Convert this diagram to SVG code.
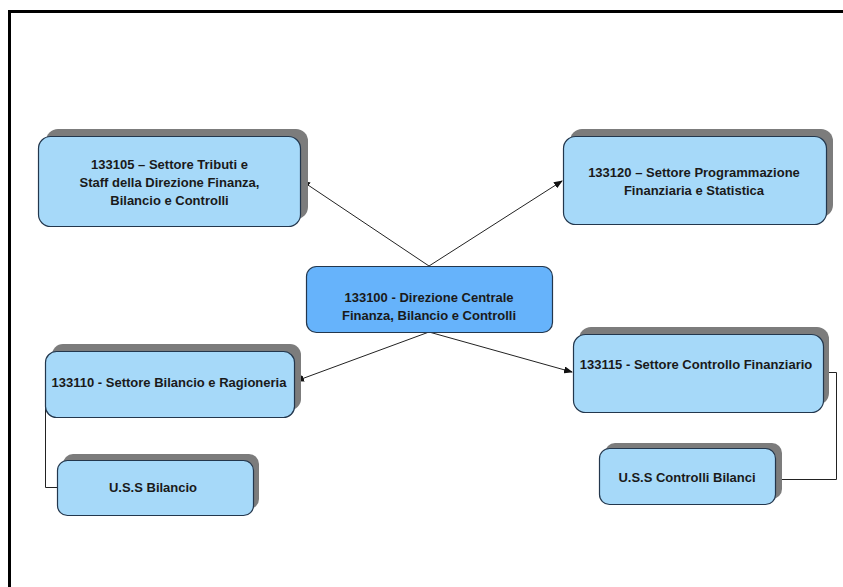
<svg xmlns="http://www.w3.org/2000/svg" width="843" height="587" viewBox="0 0 843 587">
<defs>
<style>
.box{fill:#a6d9f9;stroke:#23374d;stroke-width:1.2}
.main{fill:#66b3fb;stroke:#23374d;stroke-width:1.2}
.sh{fill:#7c7c7c}
.t{font-family:"Liberation Sans",Arial,sans-serif;font-size:13px;font-weight:bold;fill:#1a1a1a;text-anchor:middle}
.c{fill:none;stroke:#222;stroke-width:1}
</style>
<marker id="ah" markerWidth="9" markerHeight="7" refX="8" refY="3.5" orient="auto" markerUnits="userSpaceOnUse">
<path d="M0,0 L9,3.5 L0,7 z" fill="#111"/>
</marker>
</defs>
<rect x="0" y="0" width="843" height="587" fill="#fff"/>
<path d="M9.5,587 V11.5 H843" fill="none" stroke="#000" stroke-width="3"/>

<g id="connectors">
<line class="c" x1="429" y1="266" x2="302" y2="181" marker-end="url(#ah)"/>
<line class="c" x1="429" y1="266" x2="562" y2="181" marker-end="url(#ah)"/>
<line class="c" x1="429" y1="332" x2="296" y2="381" marker-end="url(#ah)"/>
<line class="c" x1="429" y1="332" x2="572" y2="372" marker-end="url(#ah)"/>
<polyline class="c" points="45.5,395 45.5,487.5 57,487.5"/>
<polyline class="c" points="823,372.5 836.5,372.5 836.5,479.5 775,479.5"/>
</g>

<g id="n133105">
<rect class="sh" x="46" y="129" width="262" height="90" rx="12"/>
<rect class="box" x="38.5" y="136.5" width="262" height="90" rx="12"/>
<text class="t" x="169.5" y="169">133105 – Settore Tributi e</text>
<text class="t" x="169.5" y="187">Staff della Direzione Finanza,</text>
<text class="t" x="169.5" y="205">Bilancio e Controlli</text>
</g>

<g id="n133120">
<rect class="sh" x="570" y="129" width="263" height="88" rx="12"/>
<rect class="box" x="563.5" y="136.5" width="263" height="88" rx="12"/>
<text class="t" x="694" y="177">133120 – Settore Programmazione</text>
<text class="t" x="694" y="195">Finanziaria e Statistica</text>
</g>

<g id="n133100">
<rect class="main" x="306.5" y="266.5" width="246" height="66" rx="10"/>
<text class="t" x="429" y="302">133100 - Direzione Centrale</text>
<text class="t" x="429" y="320">Finanza, Bilancio e Controlli</text>
</g>

<g id="n133110">
<rect class="sh" x="52" y="344" width="249" height="66" rx="11"/>
<rect class="box" x="45.5" y="351.5" width="249" height="66" rx="11"/>
<text class="t" x="169" y="387">133110 - Settore Bilancio e Ragioneria</text>
</g>

<g id="nUSSBilancio">
<rect class="sh" x="63" y="454" width="196" height="55" rx="10"/>
<rect class="box" x="57.5" y="460.5" width="196" height="55" rx="10"/>
<text class="t" x="153" y="492">U.S.S Bilancio</text>
</g>

<g id="n133115">
<rect class="sh" x="579" y="327" width="250" height="78" rx="12"/>
<rect class="box" x="573.5" y="334.5" width="250" height="78" rx="12"/>
<text class="t" x="696" y="369">133115 - Settore Controllo Finanziario</text>
</g>

<g id="nUSSControlli">
<rect class="sh" x="605" y="443" width="177" height="56" rx="10"/>
<rect class="box" x="599.5" y="448.5" width="176" height="56" rx="10"/>
<text class="t" x="687" y="482">U.S.S Controlli Bilanci</text>
</g>
</svg>
